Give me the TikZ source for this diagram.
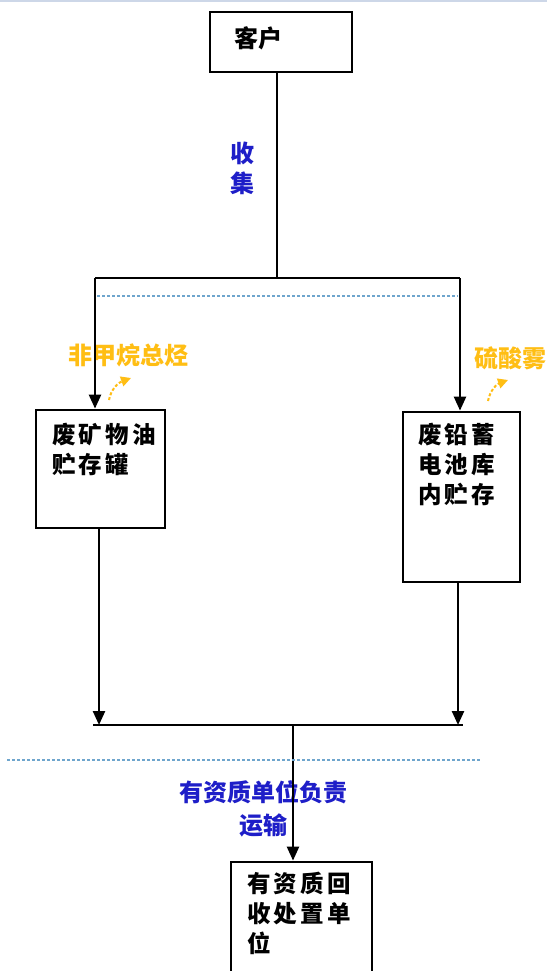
\documentclass[tikz,border=0pt]{standalone}
\usepackage{fontspec}
\usetikzlibrary{arrows.meta}
\newfontfamily\cjk{Noto Sans CJK SC}
\definecolor{lblue}{RGB}{30,30,200}
\definecolor{lorange}{RGB}{255,190,20}
\definecolor{dashblue}{RGB}{110,165,205}
\definecolor{edgegrey}{RGB}{205,215,232}
\begin{document}
\begin{tikzpicture}[x=1pt,y=-1pt,
  box/.style={draw,line width=2.8pt,inner sep=0pt,rectangle},
  ln/.style={line width=2.8pt},
  arr/.style={line width=2.4pt,-{Triangle[width=12pt,length=14pt]}},
  bluedash/.style={dashblue,line width=1.3pt,dash pattern=on 3pt off 2pt},
  oarr/.style={lorange,line width=2pt,dash pattern=on 3pt off 2pt,-{Triangle[width=10pt,length=10pt]}},
  boxtxt/.style={font=\cjk\bfseries\fontsize{23.5}{30}\selectfont\addfontfeature{LetterSpace=14},align=left,anchor=north west,inner sep=0pt},
  bluetxt/.style={font=\cjk\bfseries\fontsize{24}{33}\selectfont,text=lblue,align=center,inner sep=0pt},
  orangetxt/.style={font=\cjk\bfseries\fontsize{24}{25}\selectfont,text=lorange,inner sep=0pt}
]
\useasboundingbox (0,0) rectangle (547,971);
\fill[white] (0,0) rectangle (547,971);
\draw[edgegrey,line width=2pt] (0,1) -- (547,1);

% boxes
\node[box,minimum width=142pt,minimum height=60pt] (top) at (281,42) {};
\node[font=\cjk\bfseries\fontsize{24}{28}\selectfont,inner sep=0pt] (toptxt) at (258,38) {客户};

\node[box,minimum width=129pt,minimum height=118pt] (lbox) at (100.5,469) {};
\node[boxtxt] (ltxt) at (52,423) {废矿物油\\贮存罐};

\node[box,minimum width=117pt,minimum height=170pt] (rbox) at (461.5,497) {};
\node[boxtxt] (rtxt) at (418,423) {废铅蓄\\电池库\\内贮存};

\node[box,minimum width=141pt,minimum height=130pt] (bbox) at (301.5,927) {};
\node[boxtxt] (btxt) at (247,872) {有资质回\\收处置单\\位};

% labels
\node[bluetxt,font=\cjk\bfseries\fontsize{24}{30}\selectfont] (collect) at (242,168) {收\\集};
\node[orangetxt] (voc) at (128,355) {非甲烷总烃};
\node[orangetxt] (acid) at (510,358) {硫酸雾};
\node[bluetxt] (trans) at (263,809) {有资质单位负责\\运输};

% junction coordinates
\coordinate (ja) at (277,278);
\coordinate (hl) at (95,278);
\coordinate (hr) at (460,278);
\coordinate (bl) at (99,725);
\coordinate (br) at (458,725);
\coordinate (bll) at (93,725);
\coordinate (brr) at (463,725);
\coordinate (bm) at (293,725);

% upper connectors
\draw[ln] (top.south -| ja) -- (ja);
\draw[ln] (hl) -- (hr);
\draw[arr] (hl) -- (hl |- lbox.north);
\draw[arr] (hr) -- (hr |- rbox.north);

% lower connectors
\draw[arr] (lbox.south -| bl) -- (bl);
\draw[arr] (rbox.south -| br) -- (br);
\draw[ln] (bll) -- (brr);
\draw[arr] (bm) -- (bm |- bbox.north);

% dashed lines
\coordinate (d1a) at (97,296);
\coordinate (d1b) at (458,296);
\coordinate (d2a) at (7,760);
\coordinate (d2b) at (480,760);
\draw[bluedash] (d1a) -- (d1b);
\draw[bluedash] (d2a) -- (d2b);

% emission arrows
\coordinate (e1a) at (109,400);
\coordinate (e1b) at (131,378);
\coordinate (e2a) at (488,401);
\coordinate (e2b) at (508,380);
\draw[oarr] (e1a) to[out=80,in=200] (e1b);
\draw[oarr] (e2a) to[out=80,in=200] (e2b);
\end{tikzpicture}
\end{document}
